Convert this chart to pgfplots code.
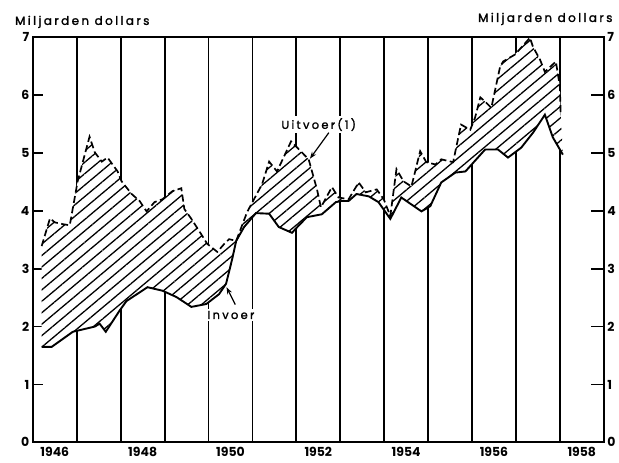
\documentclass[border=0pt]{standalone}
\usepackage{fontspec}
\setmainfont{Poppins}
\usepackage{pgfplots}
\usepackage{pgfplotstable}
\pgfplotsset{compat=1.18}
\usetikzlibrary{patterns,patterns.meta,arrows.meta}
\newfontfamily\lblfont[LetterSpace=20, FakeBold=1.6]{Poppins}
% Uitvoer (export), quarterly
\pgfplotstableread{
x y
1946.20 3.39
1946.39 3.87
1946.50 3.80
1946.68 3.77
1946.84 3.75
1947.02 4.51
1947.29 5.28
1947.41 5.01
1947.57 4.85
1947.70 4.92
1947.93 4.68
1948.02 4.51
1948.25 4.29
1948.43 4.17
1948.59 3.99
1948.77 4.15
1948.95 4.20
1949.18 4.34
1949.38 4.39
1949.45 4.03
1949.61 3.86
1949.83 3.60
1949.97 3.43
1950.20 3.29
1950.36 3.43
1950.47 3.51
1950.63 3.48
1950.88 3.98
1951.22 4.46
1951.38 4.85
1951.56 4.68
1951.88 5.20
1952.06 5.06
1952.28 4.89
1952.47 4.37
1952.56 4.06
1952.81 4.41
1952.96 4.23
1953.19 4.20
1953.42 4.49
1953.58 4.32
1953.83 4.37
1953.99 4.20
1954.14 3.91
1954.28 4.72
1954.44 4.51
1954.62 4.42
1954.82 5.03
1954.96 4.84
1955.17 4.80
1955.30 4.89
1955.57 4.84
1955.75 5.49
1955.96 5.40
1956.07 5.61
1956.19 5.96
1956.32 5.87
1956.44 5.78
1956.64 6.49
1956.71 6.58
1956.98 6.70
1957.32 6.99
1957.39 6.83
1957.55 6.61
1957.66 6.40
1957.91 6.58
1958.00 6.15
1958.02 5.66
}\exptable
% Invoer (import), quarterly
\pgfplotstableread{
x y
1946.20 1.65
1946.43 1.65
1946.91 1.91
1947.41 2.00
1947.52 2.05
1947.66 1.91
1947.97 2.27
1948.13 2.44
1948.61 2.68
1948.95 2.62
1949.27 2.51
1949.61 2.34
1949.95 2.39
1950.24 2.56
1950.40 2.74
1950.54 3.17
1950.63 3.48
1950.81 3.72
1951.08 3.96
1951.38 3.95
1951.60 3.72
1951.90 3.62
1952.06 3.75
1952.24 3.89
1952.58 3.94
1952.90 4.15
1953.03 4.17
1953.19 4.17
1953.37 4.29
1953.65 4.25
1953.87 4.15
1954.14 3.86
1954.39 4.23
1954.85 3.99
1955.05 4.08
1955.30 4.49
1955.62 4.66
1955.85 4.68
1956.30 5.06
1956.59 5.06
1956.82 4.92
1957.12 5.09
1957.39 5.35
1957.66 5.66
1957.84 5.27
1958.07 4.97
}\imptable
% outline of the band between them: export forwards, then import backwards
\pgfplotstableread{
x y
1946.20 3.39
1946.39 3.87
1946.50 3.80
1946.68 3.77
1946.84 3.75
1947.02 4.51
1947.29 5.28
1947.41 5.01
1947.57 4.85
1947.70 4.92
1947.93 4.68
1948.02 4.51
1948.25 4.29
1948.43 4.17
1948.59 3.99
1948.77 4.15
1948.95 4.20
1949.18 4.34
1949.38 4.39
1949.45 4.03
1949.61 3.86
1949.83 3.60
1949.97 3.43
1950.20 3.29
1950.36 3.43
1950.47 3.51
1950.63 3.48
1950.88 3.98
1951.22 4.46
1951.38 4.85
1951.56 4.68
1951.88 5.20
1952.06 5.06
1952.28 4.89
1952.47 4.37
1952.56 4.06
1952.81 4.41
1952.96 4.23
1953.19 4.20
1953.42 4.49
1953.58 4.32
1953.83 4.37
1953.99 4.20
1954.14 3.91
1954.28 4.72
1954.44 4.51
1954.62 4.42
1954.82 5.03
1954.96 4.84
1955.17 4.80
1955.30 4.89
1955.57 4.84
1955.75 5.49
1955.96 5.40
1956.07 5.61
1956.19 5.96
1956.32 5.87
1956.44 5.78
1956.64 6.49
1956.71 6.58
1956.98 6.70
1957.32 6.99
1957.39 6.83
1957.55 6.61
1957.66 6.40
1957.91 6.58
1958.00 6.15
1958.02 5.66
1958.07 4.97
1957.84 5.27
1957.66 5.66
1957.39 5.35
1957.12 5.09
1956.82 4.92
1956.59 5.06
1956.30 5.06
1955.85 4.68
1955.62 4.66
1955.30 4.49
1955.05 4.08
1954.85 3.99
1954.39 4.23
1954.14 3.86
1953.87 4.15
1953.65 4.25
1953.37 4.29
1953.19 4.17
1953.03 4.17
1952.90 4.15
1952.58 3.94
1952.24 3.89
1952.06 3.75
1951.90 3.62
1951.60 3.72
1951.38 3.95
1951.08 3.96
1950.81 3.72
1950.63 3.48
1950.54 3.17
1950.40 2.74
1950.24 2.56
1949.95 2.39
1949.61 2.34
1949.27 2.51
1948.95 2.62
1948.61 2.68
1948.13 2.44
1947.97 2.27
1947.66 1.91
1947.52 2.05
1947.41 2.00
1946.91 1.91
1946.43 1.65
1946.20 1.65
}\bandtable
\begin{document}
\begin{tikzpicture}
\begin{axis}[
  scale only axis,
  width=573pt, height=406.7pt,
  xmin=1946, xmax=1959, ymin=0, ymax=7,
  clip=false,
  axis on top=false,
  axis line style={line width=1.8pt},
  xtick={1946.5,1948.5,1950.5,1952.5,1954.5,1956.5,1958.5},
  xticklabels={1946,1948,1950,1952,1954,1956,1958},
  x tick label style={font=\bfseries\fontsize{12.5}{14}\selectfont, yshift=-1pt},
  major x tick style={draw=none},
  extra x ticks={1947,1948,1949,1950,1951,1952,1953,1954,1955,1956,1957,1958},
  extra x tick labels={},
  extra x tick style={grid=major, major tick length=0pt},
  major grid style={black, line width=1.8pt},
  ytick={0,1,2,3,4,5,6,7},
  ytick pos=left,
  tick align=inside,
  major tick length=10pt,
  y tick style={black, line width=1.8pt},
  y tick label style={font=\bfseries\fontsize{12.5}{14}\selectfont},
  /pgf/number format/assume math mode=true,
]
% hatched band: white first (hides the year lines), then hatching
\addplot[fill=white, draw=none, forget plot] table[x=x, y=y] {\bandtable};
\addplot[draw=none, pattern={Lines[angle=40, distance=8.8pt, line width=1.3pt]}, forget plot] table[x=x, y=y] {\bandtable};
% the two series
\addplot[black, line width=1.7pt, dash pattern=on 7pt off 3.5pt] table[x=x, y=y] {\exptable};
\addplot[black, line width=1.9pt] table[x=x, y=y] {\imptable};
% labels
\node[fill=white, inner sep=2pt, font=\lblfont\fontsize{11.5}{13}\selectfont] at (axis cs:1952.51,5.49) {Uitvoer(1)};
\draw[-{Stealth[length=7pt,width=5pt]}, line width=1.2pt] (axis cs:1952.74,5.35) -- (axis cs:1952.31,4.90);
\node[fill=white, inner sep=2pt, font=\lblfont\fontsize{11.5}{13}\selectfont] at (axis cs:1950.51,2.20) {Invoer};
\draw[-{Stealth[length=7pt,width=5pt]}, line width=1.2pt] (axis cs:1950.61,2.38) -- (axis cs:1950.41,2.68);
\node[anchor=base west, inner sep=0pt, font=\lblfont\fontsize{12}{14}\selectfont] at (axis cs:1945.592,7.212) {Miljarden dollars};
\node[anchor=base east, inner sep=0pt, font=\lblfont\fontsize{12}{14}\selectfont] at (axis cs:1959.203,7.263) {Miljarden dollars};
\draw[draw=none] (axis cs:1945.2514,-0.344) rectangle (axis cs:1959.294,7.642);
\end{axis}
\begin{axis}[
  scale only axis,
  width=573pt, height=406.7pt,
  xmin=1946, xmax=1959, ymin=0, ymax=7,
  axis x line=none,
  axis y line*=right,
  axis line style={line width=1.8pt},
  ytick={0,1,2,3,4,5,6,7},
  tick align=inside,
  major tick length=13pt,
  y tick style={black, line width=1.8pt},
  y tick label style={font=\bfseries\fontsize{12.5}{14}\selectfont},
  /pgf/number format/assume math mode=true,
]
\end{axis}
\end{tikzpicture}
\end{document}
